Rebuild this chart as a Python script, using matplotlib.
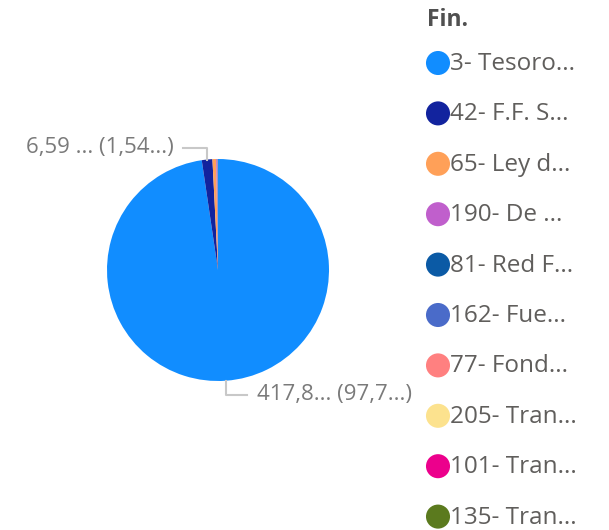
import matplotlib.pyplot as plt
import numpy as np

plt.rcParams['font.family'] = ['Open Sans', 'DejaVu Sans']

# data
fuentes = ['3- Tesoro...', '42- F.F. S...', '65- Ley d...', '190- De ...', '81- Red F...',
           '162- Fue...', '77- Fond...', '205- Tran...', '101- Tran...', '135- Tran...']
valores = [417.8, 6.59, 2.3, 0.45, 0.3, 0.15, 0.1, 0.06, 0.04, 0.02]
colores = ['#118DFF', '#12239E', '#FFA058', '#C05FCC', '#0B5AA5',
           '#4A6BC9', '#FF8080', '#FCE28E', '#EC008C', '#5B7A1E']
etiquetas = {0: '417,8... (97,7...)', 1: '6,59 ... (1,54...)'}

W, H = 609, 530
fig = plt.figure(figsize=(W / 100, H / 100), dpi=100)

# pie axes, placed in pixel terms
cx, cy, r = 218, 270, 111
ax = fig.add_axes([(cx - r) / W, (H - cy - r) / H, 2 * r / W, 2 * r / H])
wedges, _ = ax.pie(valores, colors=colores, startangle=90, counterclock=False,
                   radius=1, wedgeprops=dict(linewidth=0))
ax.set_xlim(-1, 1)
ax.set_ylim(-1, 1)
ax.axis('off')

# leader lines + data labels
gris = '#7a7a7a'
for i, txt in etiquetas.items():
    w = wedges[i]
    ang = np.deg2rad((w.theta1 + w.theta2) / 2)
    x0, y0 = np.cos(ang), np.sin(ang)
    if y0 > 0:
        y1 = y0 + 0.1
        x2 = x0 - 0.22
        ax.plot([x0, x0, x2], [y0, y1, y1], color='#c8c8c8', lw=1.5, clip_on=False)
        ax.text(x2 - 0.08, y1 + 0.01, txt, ha='right', va='center', fontsize=16, color=gris)
    else:
        y1 = y0 - 0.13
        x2 = x0 + 0.19
        ax.plot([x0, x0, x2], [y0, y1, y1], color='#c8c8c8', lw=1.5, clip_on=False)
        ax.text(x2 + 0.09, y1 + 0.01, txt, ha='left', va='center', fontsize=16, color=gris)

# legend drawn in pixel coords
lg = fig.add_axes([0, 0, 1, 1])
lg.set_xlim(0, W)
lg.set_ylim(H, 0)
lg.axis('off')
lg.text(427, 20, 'Fin.', fontsize=16.5, fontweight='bold', color='#505050', va='center')
for k, (nom, col) in enumerate(zip(fuentes, colores)):
    y = 63 + k * 50.4
    lg.scatter([438], [y], s=300, color=col, edgecolors='none')
    lg.text(450, y + 1, nom, fontsize=17.5, color='#605E5C', va='center')

fig.savefig('out.png', dpi=100)
